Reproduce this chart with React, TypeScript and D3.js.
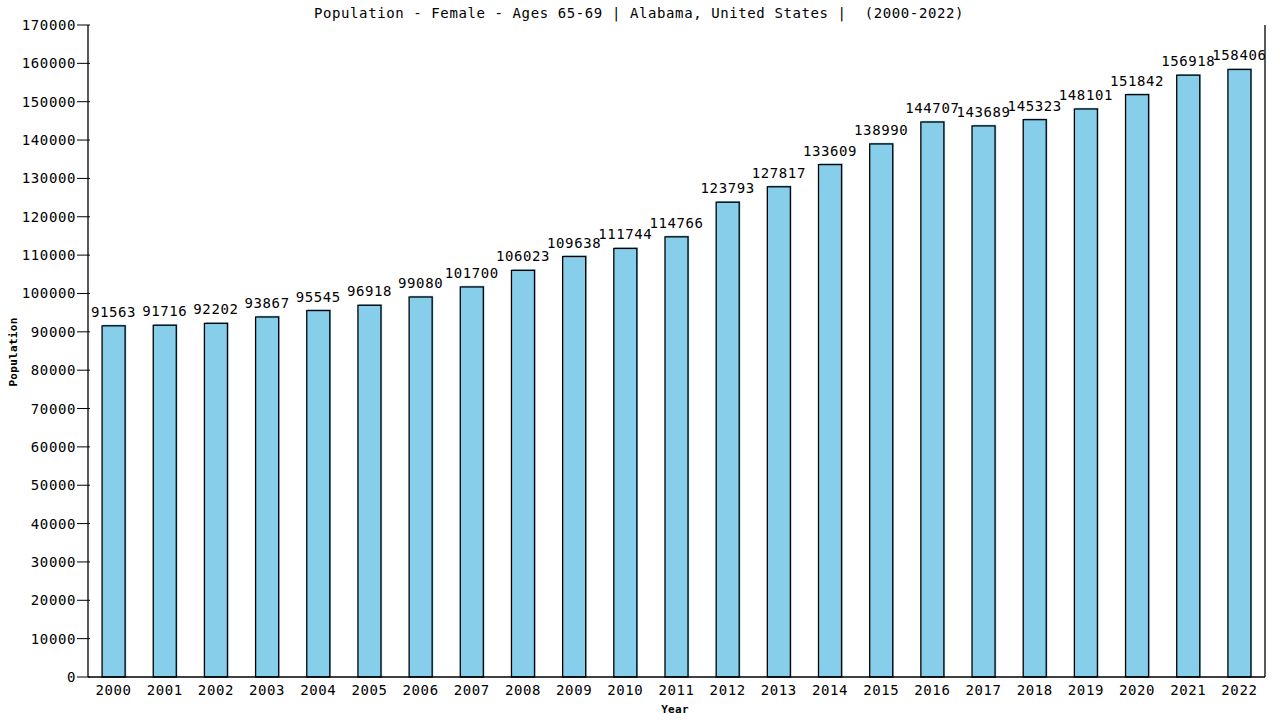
import React from "react";
import * as d3 from "d3";

const years = ["2000","2001","2002","2003","2004","2005","2006","2007","2008","2009","2010","2011","2012","2013","2014","2015","2016","2017","2018","2019","2020","2021","2022"];
const population = [91563,91716,92202,93867,95545,96918,99080,101700,106023,109638,111744,114766,123793,127817,133609,138990,144707,143689,145323,148101,151842,156918,158406];
const yTicks = [0,10000,20000,30000,40000,50000,60000,70000,80000,90000,100000,110000,120000,130000,140000,150000,160000,170000];
const title = "Population - Female - Ages 65-69 | Alabama, United States |  (2000-2022)";
const xTitle = "Year";
const yTitle = "Population";

const W = 1280, H = 720;
const left = 88, right = 1265, top = 25, bottom = 677;
const font = "'DejaVu Sans Mono', monospace";

export default function App() {
  const x = d3.scaleBand<string>().domain(years).range([left, right]).paddingInner(0.55).paddingOuter(0.275);
  const y = d3.scaleLinear().domain([0, 170000]).range([bottom, top]);
  const bw = x.bandwidth();
  return (
    <svg width={W} height={H} style={{ position: "absolute", left: 0, top: 0, background: "#fff" }}>
      <rect x={0} y={0} width={W} height={H} fill="#fff" />
      <text x={639} y={18} textAnchor="middle" fontFamily={font} fontSize={14} letterSpacing={0.6} style={{ whiteSpace: "pre" }}>{title}</text>
      {years.map((yr, i) => {
        const bx = x(yr)!;
        const by = y(population[i]);
        return (
          <g key={yr}>
            <rect x={bx + 1.2} y={by - 1.2} width={bw} height={bottom - by + 1.2} fill="#87CEEB" />
            <rect x={bx} y={by} width={bw} height={bottom - by} fill="#87CEEB" stroke="#000" strokeWidth={1.3} />
            <text x={bx + bw / 2} y={by - 9} textAnchor="middle" fontFamily={font} fontSize={14} letterSpacing={0.6}>{population[i]}</text>
            <text x={bx + bw / 2} y={695} textAnchor="middle" fontFamily={font} fontSize={14} letterSpacing={0.6}>{yr}</text>
          </g>
        );
      })}
      {yTicks.map(t => (
        <g key={t}>
          <line x1={77} x2={90} y1={y(t)} y2={y(t)} stroke="#000" strokeWidth={1} />
          <text x={76} y={y(t) + 5} textAnchor="end" fontFamily={font} fontSize={14} letterSpacing={0.6}>{t}</text>
        </g>
      ))}
      <line x1={left} x2={left} y1={top} y2={bottom} stroke="#000" strokeWidth={1.3} />
      <line x1={right} x2={right} y1={top} y2={bottom} stroke="#000" strokeWidth={1.3} />
      <line x1={left} x2={right} y1={bottom} y2={bottom} stroke="#000" strokeWidth={1.3} />
      <text x={675} y={713} textAnchor="middle" fontFamily={font} fontSize={11} fontWeight="bold" letterSpacing={0.3}>{xTitle}</text>
      <text transform="translate(17,352) rotate(-90)" textAnchor="middle" fontFamily={font} fontSize={11} fontWeight="bold" letterSpacing={0.3}>{yTitle}</text>
    </svg>
  );
}
